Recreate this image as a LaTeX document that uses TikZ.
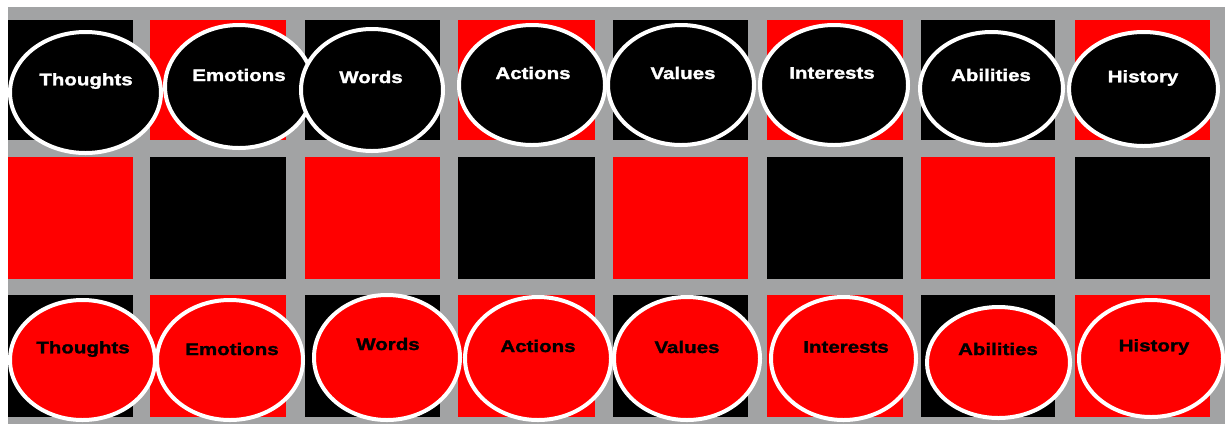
\documentclass[tikz,border=0pt]{standalone}
\usepackage{fontspec}
\usetikzlibrary{shapes.geometric}
\newfontfamily\lab[FakeStretch=1.22,FakeBold=1.6]{Liberation Sans Bold}
\definecolor{bggray}{RGB}{162,163,164}
\definecolor{myred}{RGB}{255,0,0}
\tikzset{
  sqb/.style={fill=black,draw=none},
  sqr/.style={fill=myred,draw=none},
  oval/.style={ellipse,draw=white,line width=4pt,inner sep=0pt},
  topoval/.style={oval,fill=black},
  botoval/.style={oval,fill=myred},
  toptxt/.style={text=white,font=\lab\fontsize{16.8}{18}\selectfont,inner sep=0pt},
  bottxt/.style={text=black,font=\lab\fontsize{16.8}{18}\selectfont,inner sep=0pt},
}
\begin{document}
\begin{tikzpicture}[x=1pt,y=-1pt]
\useasboundingbox (0,0) rectangle (1225,424);
\fill[white] (0,0) rectangle (1225,424);
\fill[bggray] (8,7) rectangle (1225,424);
% row 1
\fill[sqb] (8,20) rectangle (133,140);
\fill[sqr] (150,20) rectangle (286,140);
\fill[sqb] (305,20) rectangle (440,140);
\fill[sqr] (458,20) rectangle (595,140);
\fill[sqb] (613,20) rectangle (748,140);
\fill[sqr] (767,20) rectangle (903,140);
\fill[sqb] (921,20) rectangle (1055,140);
\fill[sqr] (1075,20) rectangle (1210,140);
% row 2
\fill[sqr] (8,157) rectangle (133,279);
\fill[sqb] (150,157) rectangle (286,279);
\fill[sqr] (305,157) rectangle (440,279);
\fill[sqb] (458,157) rectangle (595,279);
\fill[sqr] (613,157) rectangle (748,279);
\fill[sqb] (767,157) rectangle (903,279);
\fill[sqr] (921,157) rectangle (1055,279);
\fill[sqb] (1075,157) rectangle (1210,279);
% row 3
\fill[sqb] (8,295) rectangle (133,417);
\fill[sqr] (150,295) rectangle (286,417);
\fill[sqb] (305,295) rectangle (440,417);
\fill[sqr] (458,295) rectangle (595,417);
\fill[sqb] (613,295) rectangle (748,417);
\fill[sqr] (767,295) rectangle (903,417);
\fill[sqb] (921,295) rectangle (1055,417);
\fill[sqr] (1075,295) rectangle (1210,417);
% top row ovals
\node[topoval,minimum width=151pt,minimum height=121pt] (a1) at (85.5,92.5) {};
\node[topoval,minimum width=148pt,minimum height=123pt] (a2) at (239,86.5) {};
\node[topoval,minimum width=142pt,minimum height=122pt] (a3) at (372,90) {};
\node[topoval,minimum width=146pt,minimum height=120pt] (a4) at (532,85) {};
\node[topoval,minimum width=146pt,minimum height=120pt] (a5) at (681,85) {};
\node[topoval,minimum width=148pt,minimum height=120pt] (a6) at (834,85) {};
\node[topoval,minimum width=143pt,minimum height=113pt] (a7) at (991.5,88.5) {};
\node[topoval,minimum width=149pt,minimum height=114pt] (a8) at (1143.5,89) {};
\node[toptxt] (ta1) at (86,81) {Thoughts};
\node[toptxt] (ta2) at (239,75) {Emotions};
\node[toptxt] (ta3) at (371,77) {Words};
\node[toptxt] (ta4) at (533,73) {Actions};
\node[toptxt] (ta5) at (683,73) {Values};
\node[toptxt] (ta6) at (832,73) {Interests};
\node[toptxt] (ta7) at (991,75) {Abilities};
\node[toptxt] (ta8) at (1143,78) {History};
% bottom row ovals
\node[botoval,minimum width=145pt,minimum height=120pt] (b1) at (82.5,360) {};
\node[botoval,minimum width=146pt,minimum height=120pt] (b2) at (230,360) {};
\node[botoval,minimum width=146pt,minimum height=125pt] (b3) at (387,357.5) {};
\node[botoval,minimum width=146pt,minimum height=123pt] (b4) at (538,358.5) {};
\node[botoval,minimum width=146pt,minimum height=123pt] (b5) at (687,358.5) {};
\node[botoval,minimum width=145pt,minimum height=123pt] (b6) at (843.5,358.5) {};
\node[botoval,minimum width=143pt,minimum height=111pt] (b7) at (998.5,362.5) {};
\node[botoval,minimum width=144pt,minimum height=117pt] (b8) at (1151,358.5) {};
\node[bottxt] (tb1) at (83,349) {Thoughts};
\node[bottxt] (tb2) at (232,349) {Emotions};
\node[bottxt] (tb3) at (388,344) {Words};
\node[bottxt] (tb4) at (538,346) {Actions};
\node[bottxt] (tb5) at (687,347) {Values};
\node[bottxt] (tb6) at (846,347) {Interests};
\node[bottxt] (tb7) at (998,349) {Abilities};
\node[bottxt] (tb8) at (1154,347) {History};
\end{tikzpicture}
\end{document}
